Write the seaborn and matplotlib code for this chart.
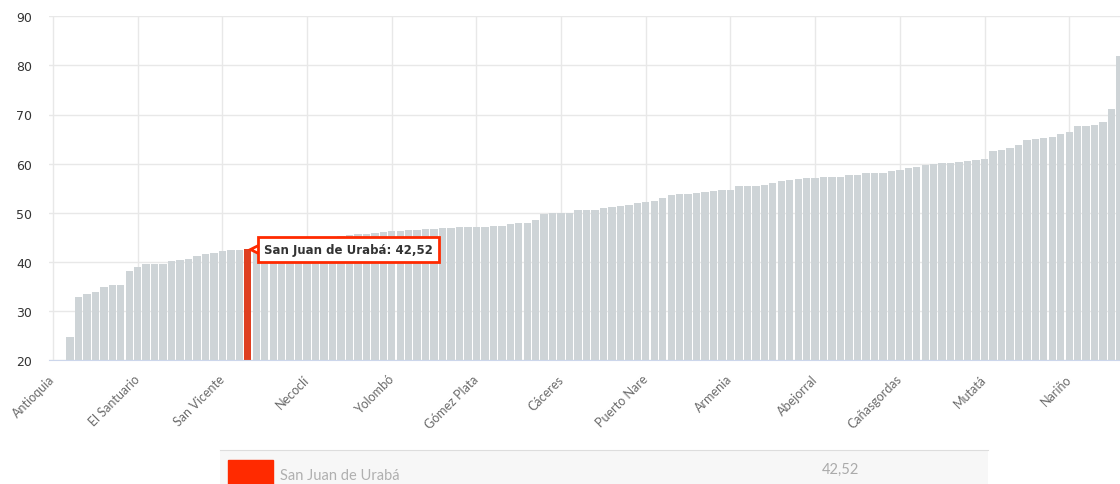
import numpy as np
import pandas as pd
import seaborn as sns
import matplotlib.pyplot as plt
from matplotlib.patches import Rectangle

# valores por municipio, ordenados de menor a mayor
valores = [
    18.0, 19.0, 24.6, 32.8, 33.4, 33.8, 34.8, 35.3, 35.3, 38.2,
    38.9, 39.5, 39.6, 39.5, 40.1, 40.4, 40.6, 41.2, 41.5, 41.8,
    42.3, 42.4, 42.5, 42.52, 42.7, 43.0, 43.2, 43.5, 43.8, 44.0,
    44.3, 44.5, 44.8, 45.0, 45.2, 45.4, 45.6, 45.7, 45.9, 46.0,
    46.2, 46.3, 46.4, 46.5, 46.6, 46.7, 46.8, 46.9, 47.0, 47.1,
    47.1, 47.1, 47.2, 47.3, 47.6, 47.9, 48.0, 48.6, 49.8, 49.9,
    49.9, 50.0, 50.5, 50.6, 50.6, 50.9, 51.1, 51.3, 51.6, 52.0,
    52.1, 52.4, 52.9, 53.6, 53.8, 53.9, 54.1, 54.3, 54.5, 54.6,
    54.7, 55.4, 55.5, 55.5, 55.6, 56.0, 56.4, 56.7, 56.8, 57.0,
    57.0, 57.2, 57.3, 57.3, 57.6, 57.7, 58.0, 58.0, 58.1, 58.5,
    58.7, 59.1, 59.3, 59.8, 59.9, 60.1, 60.2, 60.4, 60.5, 60.7,
    60.9, 62.5, 62.7, 63.1, 63.7, 64.9, 65.1, 65.3, 65.4, 66.0,
    66.4, 67.6, 67.7, 67.9, 68.4, 71.1, 82.0,
]

# solo se ve una etiqueta cada 10 municipios
etiquetas = ["Antioquia", "El Santuario", "San Vicente", "Necoclí", "Yolombó",
             "Gómez Plata", "Cáceres", "Puerto Nare", "Armenia", "Abejorral",
             "Cañasgordas", "Mutatá", "Nariño"]
paso = 10

destacado = "San Juan de Urabá"
pos_destacado = 23

gris = "#cdd4d8"
rojo = "#ff2a00"

df = pd.DataFrame({"pos": np.arange(len(valores)), "valor": valores})
df["grupo"] = np.where(df["pos"] == pos_destacado, "destacado", "resto")
valor_dest = df.loc[pos_destacado, "valor"]
texto_valor = f"{valor_dest:.2f}".replace(".", ",")

sns.set_style("white")
plt.rcParams["font.family"] = ["DejaVu Sans"]

W, H = 1120, 485
fig = plt.figure(figsize=(W / 100, H / 100), dpi=100)
ax = fig.add_axes([48.8 / W, 124 / H, 1 - 48.8 / W, 343.7 / H])

sns.barplot(data=df, x="pos", y="valor", hue="grupo",
            palette={"resto": gris, "destacado": rojo},
            dodge=False, width=0.87, linewidth=0, legend=False, ax=ax)

ax.set_ylim(20, 90)
ax.set_xlim(-0.5, 126.0)
ax.set_yticks(range(20, 91, 10))
ax.set_xticks(range(0, len(valores), paso))
ax.set_xticklabels(etiquetas, rotation=45, ha="right", va="center",
                   rotation_mode="anchor", family="Lato", fontsize=9, color="#6b6b6b")
ax.set_xlabel("")
ax.set_ylabel("")

ax.grid(True, color="#e8e8e8", lw=1)
ax.set_axisbelow(True)
for s in ["top", "right", "left"]:
    ax.spines[s].set_visible(False)
ax.spines["bottom"].set_color("#ccd6eb")
ax.tick_params(axis="x", length=5, color="#ccd6eb", pad=7)
ax.tick_params(axis="y", length=0, pad=12, labelsize=9, labelcolor="#333333")

# tooltip del municipio destacado
ax.plot(pos_destacado + 0.95, valor_dest, marker="<", ms=9, mfc="white",
        mec=rojo, mew=2, zorder=5, clip_on=False)
ax.annotate(f"{destacado}: {texto_valor}", xy=(pos_destacado, valor_dest),
            xytext=(11.5, 0), textcoords="offset points", ha="left", va="center",
            fontsize=8.5, fontweight="bold", color="#333333",
            bbox=dict(boxstyle="square,pad=0.5", fc="white", ec=rojo, lw=2),
            zorder=6, annotation_clip=False)

# franja inferior con el municipio seleccionado
leg = fig.add_axes([220 / W, 0, 768 / W, 34 / H])
leg.set_xlim(0, 768)
leg.set_ylim(0, 34)
leg.set_facecolor("#f7f7f7")
leg.set_xticks([])
leg.set_yticks([])
for s in ["bottom", "left", "right"]:
    leg.spines[s].set_visible(False)
leg.spines["top"].set_color("#dddddd")
leg.add_patch(Rectangle((8, 0), 45, 24, color=rojo))
leg.text(60, 9, destacado, va="center", ha="left", fontsize=10.5,
         family="Lato", color="#b0b0b0")
leg.text(602, 15, texto_valor, va="center", ha="left", fontsize=10.5,
         family="Lato", color="#aaaaaa")

fig.savefig("out.png", dpi=100)
